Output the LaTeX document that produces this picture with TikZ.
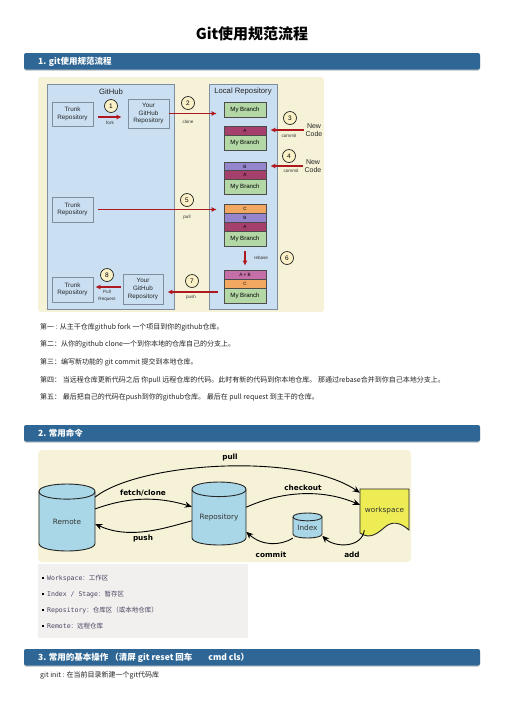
\documentclass[tikz,border=0pt]{standalone}
\usepackage{fontspec}
\setmainfont{Liberation Sans}
\newfontfamily\cjk{Noto Sans CJK SC}
\newfontfamily\vera{DejaVu Sans}
\newfontfamily\veramono{DejaVu Sans Mono}
\usetikzlibrary{arrows.meta,shadows}
\definecolor{barblue}{HTML}{2E6795}
\definecolor{cream}{HTML}{F5F2D7}
\definecolor{panelblue}{HTML}{CADFF1}
\definecolor{panelline}{HTML}{7E8E9E}
\definecolor{mbgreen}{HTML}{B3D8A6}
\definecolor{cmA}{HTML}{A5406C}
\definecolor{cmB}{HTML}{9485CC}
\definecolor{cmC}{HTML}{F3A862}
\definecolor{cmAB}{HTML}{C56FA8}
\definecolor{arrowred}{HTML}{B0181F}
\definecolor{dotfill}{HTML}{FBF0C6}
\definecolor{drumblue}{HTML}{A9D7E7}
\definecolor{wsyellow}{HTML}{EEEC55}
\definecolor{listgray}{HTML}{F1F0EE}
\definecolor{listtext}{HTML}{4A4460}
\definecolor{bodytext}{HTML}{222222}
\def\colx{245}
\def\rowx{40}
\newcommand{\fsz}[2]{\fontsize{#1}{#2}\selectfont}
\newcommand{\slice}[4][mbgreen]{
    \node[slice,fill=#1] (#2) at (\colx,#3) {#4};
}
\newcommand{\branch}[2]{
    \node[slice,fill=mbgreen,minimum height=15,font=\fsz{6.1}{7}] (#1) at (\colx,#2) {My Branch};
}
\newcommand{\stepmark}[3]{
    \node[stepdot] (step#1) at (#2,#3) {#1};
}
\newcommand{\drum}[6]{
    \pgfmathsetmacro{\dl}{#2-#4/2}
    \pgfmathsetmacro{\dr}{#2+#4/2}
    \pgfmathsetmacro{\dk}{0.18*#4}
    \pgfmathsetmacro{\dt}{#3-#5/2+0.75*\dk}
    \pgfmathsetmacro{\db}{#3+#5/2-0.75*\dk}
    \pgfmathsetmacro{\dy}{0.4*\dk}
    \filldraw[drum] (\dl,\dt) -- (\dl,\db) .. controls (\dl,{\db+\dk}) and (\dr,{\db+\dk}) .. (\dr,\db)
        -- (\dr,\dt) .. controls (\dr,{\dt-\dk}) and (\dl,{\dt-\dk}) .. (\dl,\dt) -- cycle;
    \draw[drum,fill=none] (\dl,\dt) .. controls (\dl,{\dt+\dk}) and (\dr,{\dt+\dk}) .. (\dr,\dt);
    \node[inner sep=0,minimum width=#4,minimum height=#5,
        label={[drumtext,yshift=-\dy pt]center:#6}] (#1) at (#2,#3) {};
}
\newcommand{\headbar}[3]{
    \fill[barblue,rounded corners=2pt,drop shadow={shadow xshift=0pt,shadow yshift=-1.3pt,opacity=0.35}]
        (24,#2) rectangle (480,{#2+16.5});
    \node[bartext] (#1) at (38,{#2+8.5}) {#3};
}
\newcommand{\textrow}[3]{
    \node[bodyrow] (#1) at (\rowx,#2) {#3};
}
\newcommand{\listrow}[4]{
    \fill (41.5,{#2-1.2}) rectangle (44,{#2+1.3});
    \node[listrow] (#1) at (47,#2) {{\veramono #3}#4};
}

\begin{document}
\begin{tikzpicture}[x=1pt,y=-1pt,
    repobox/.style={draw=panelline,fill=panelblue,line width=0.7pt,align=center,
        minimum width=41,inner sep=0,font=\fsz{6.3}{7.7},text=black!85},
    slice/.style={draw=black!70,line width=0.6pt,minimum width=42,minimum height=9,
        inner sep=0,font=\fsz{4.6}{5}},
    stepdot/.style={circle,draw=black!85,line width=0.7pt,fill=dotfill,minimum size=13,
        inner sep=0,font=\fsz{6.5}{7}},
    tinytext/.style={font=\fsz{4.6}{6.5},inner sep=0,text=black!80,align=center},
    codetext/.style={font=\fsz{7}{7.6},inner sep=0,align=center,text=black!85},
    paneltitle/.style={font=\fsz{7.7}{9},inner sep=0,text=black!85},
    redarrow/.style={draw=arrowred,line width=1.3pt,-{Latex[length=5pt,width=5pt]}},
    drum/.style={draw=black!85,line width=0.9pt,fill=drumblue},
    drumtext/.style={font=\vera\fsz{7.3}{8},inner sep=0,text=black!80},
    cmdtext/.style={font=\vera\bfseries\fsz{7.3}{8},inner sep=0},
    blackarrow/.style={draw=black,line width=0.9pt,-{Stealth[length=7pt,width=6pt]}},
    bartext/.style={anchor=west,inner sep=0,text=white,font=\cjk\bfseries\fsz{8.5}{10}},
    bodyrow/.style={anchor=west,inner sep=0,text=bodytext,font=\cjk\fsz{7}{8}},
    listrow/.style={anchor=west,inner sep=0,text=listtext,font=\cjk\fsz{6.5}{8}}]
\useasboundingbox (0,0) rectangle (504,713);

\node[font=\cjk\bfseries\fsz{15}{18},inner sep=0] (title) at (252,34) {Git使用规范流程};

% part 1: the work flow
\headbar{bara}{53}{1. git使用规范流程}
\fill[cream,rounded corners=3pt] (38,77) rectangle (324,312);
\filldraw[fill=panelblue,draw=panelline,line width=0.7pt] (47,84) rectangle (174,309);
\filldraw[fill=panelblue,draw=panelline,line width=0.7pt] (209,84) rectangle (277,309);
\node[paneltitle] (hubtitle) at (111,92) {GitHub};
\node[paneltitle] (localtitle) at (243,92) {Local Repository};

\node[repobox,minimum height=24] (trunka) at (72.5,114) {Trunk\\Repository};
\node[repobox,minimum height=29] (forka) at (148.5,113.5) {Your\\GitHub\\Repository};
\node[repobox,minimum height=25] (trunkb) at (72.5,209.5) {Trunk\\Repository};
\node[repobox,minimum height=25] (trunkc) at (72.5,289.5) {Trunk\\Repository};
\node[repobox,minimum width=40,minimum height=30] (forkb) at (143,289) {Your\\GitHub\\Repository};

\branch{bra}{110}
\slice[cmA]{ab}{130.5}{A}
\branch{brb}{143}
\slice[cmB]{bc}{166.5}{B}
\slice[cmA]{ac}{175}{A}
\branch{brc}{186.5}
\slice[cmC]{cd}{208.5}{C}
\slice[cmB]{bd}{217.5}{B}
\slice[cmA]{ad}{226.5}{A}
\branch{brd}{239}
\slice[cmAB]{abe}{274.5}{A + B}
\slice[cmC]{ce}{283.5}{C}
\branch{bre}{295.5}

\node[codetext] (codea) at (314,130) {New\\Code};
\node[codetext] (codeb) at (313,166) {New\\Code};

\draw[redarrow,shorten <=5pt,shorten >=6pt] ([yshift=-3pt]trunka.east) -- ([yshift=-3pt]trunka.east -| forka.west);
\draw[redarrow,shorten >=7pt] (forka.east) -- (forka.east -| bra.west);
\draw[redarrow,shorten <=1pt,shorten >=4pt] (codea.west) -- (codea.west -| ab.east);
\draw[redarrow,shorten <=1pt,shorten >=4pt] (codeb.west) -- (codeb.west -| bc.east);
\draw[redarrow,shorten <=5pt,shorten >=7pt] (trunkb.east) -- (trunkb.east -| cd.west);
\draw[redarrow,shorten <=4pt,shorten >=4pt] (brd.south) -- (abe.north);
\draw[redarrow,shorten <=6pt,shorten >=4pt] ([yshift=3.5pt]bre.west) -- ([yshift=3.5pt]bre.west -| forkb.east);
\draw[redarrow,shorten <=2pt,shorten >=2pt] ([yshift=2pt]forkb.west) -- ([yshift=2pt]forkb.west -| trunkc.east);

\node[tinytext] (forklbl) at (110,123) {fork};
\node[tinytext] (clonelbl) at (188,122) {clone};
\node[tinytext] (commitlbla) at (289,136) {commit};
\node[tinytext] (commitlblb) at (291,171) {commit};
\node[tinytext] (pulllbla) at (187,217) {pull};
\node[tinytext] (rebaselbl) at (261,258) {rebase};
\node[tinytext] (pushlbla) at (191,297) {push};
\node[tinytext] (requestlbl) at (107,296) {Pull\\Request};

\stepmark{1}{111}{106}
\stepmark{2}{188}{103}
\stepmark{3}{290}{118}
\stepmark{4}{289}{156}
\stepmark{5}{187}{200}
\stepmark{6}{287}{258}
\stepmark{7}{192}{281}
\stepmark{8}{107}{275}

\textrow{rowa}{327}{第一 : 从主干仓库github fork 一个项目到你的github仓库。}
\textrow{rowb}{344.5}{第二：从你的github clone一个到你本地的仓库自己的分支上。}
\textrow{rowc}{362}{第三：编写新功能的 git commit 提交到本地仓库。}
\textrow{rowd}{380}{第四： 当远程仓库更新代码之后 你pull 远程仓库的代码。此时有新的代码到你本地仓库。 那通过rebase合并到你自己本地分支上。}
\textrow{rowe}{397}{第五： 最后把自己的代码在push到你的github仓库。 最后在 pull request 到主干的仓库。}

% part 2: the commands
\headbar{barb}{425}{2. 常用命令}
\fill[cream,rounded corners=4pt] (38,450) rectangle (411,562);
\drum{remote}{67}{517.5}{56}{67}{Remote}
\drum{repository}{219}{513.5}{54}{63}{Repository}
\drum{index}{307.5}{525.5}{29}{25}{Index}
\filldraw[fill=wsyellow,draw=black!85,line width=0.9pt] (360,489) -- (409,489) -- (409,530)
    .. controls (400,522) and (392,521) .. (385,527) .. controls (378,533) and (370,540) .. (360,533) -- cycle;
\node[drumtext,minimum width=49,minimum height=40] (ws) at (384.5,510) {workspace};

\draw[blackarrow] (remote.36) .. controls (140,462) and (300,452) .. (ws.145);
\draw[blackarrow] (remote.17) .. controls (120,500) and (150,494) .. (repository.166);
\draw[blackarrow] (repository.195) .. controls (165,528) and (130,540) .. (remote.-13);
\draw[blackarrow] (repository.13) .. controls (280,492) and (320,488) .. (ws.168);
\draw[blackarrow] (index.south west) .. controls (280,546) and (262,546) .. (repository.-34);
\draw[blackarrow] (ws.225) .. controls (362,548) and (335,548) .. (index.-35);

\node[cmdtext] (pulllblb) at (230,457) {pull};
\node[cmdtext] (fetchlbl) at (143,493) {fetch/clone};
\node[cmdtext] (pushlblb) at (143,538) {push};
\node[cmdtext] (checkoutlbl) at (303,488) {checkout};
\node[cmdtext] (commitlblc) at (271,555) {commit};
\node[cmdtext] (addlbl) at (352,555) {add};

\fill[listgray] (38,564) rectangle (248,638);
\listrow{itema}{578}{Workspace}{：工作区}
\listrow{itemb}{594}{Index / Stage}{：暂存区}
\listrow{itemc}{610}{Repository}{：仓库区（或本地仓库）}
\listrow{itemd}{626}{Remote}{：远程仓库}

% part 3: basic operations
\headbar{barc}{649}{3. 常用的基本操作 （清屏 git reset 回车\hspace{16pt}cmd cls）}
\textrow{rowf}{675}{git init : 在当前目录新建一个git代码库}
\end{tikzpicture}
\end{document}
